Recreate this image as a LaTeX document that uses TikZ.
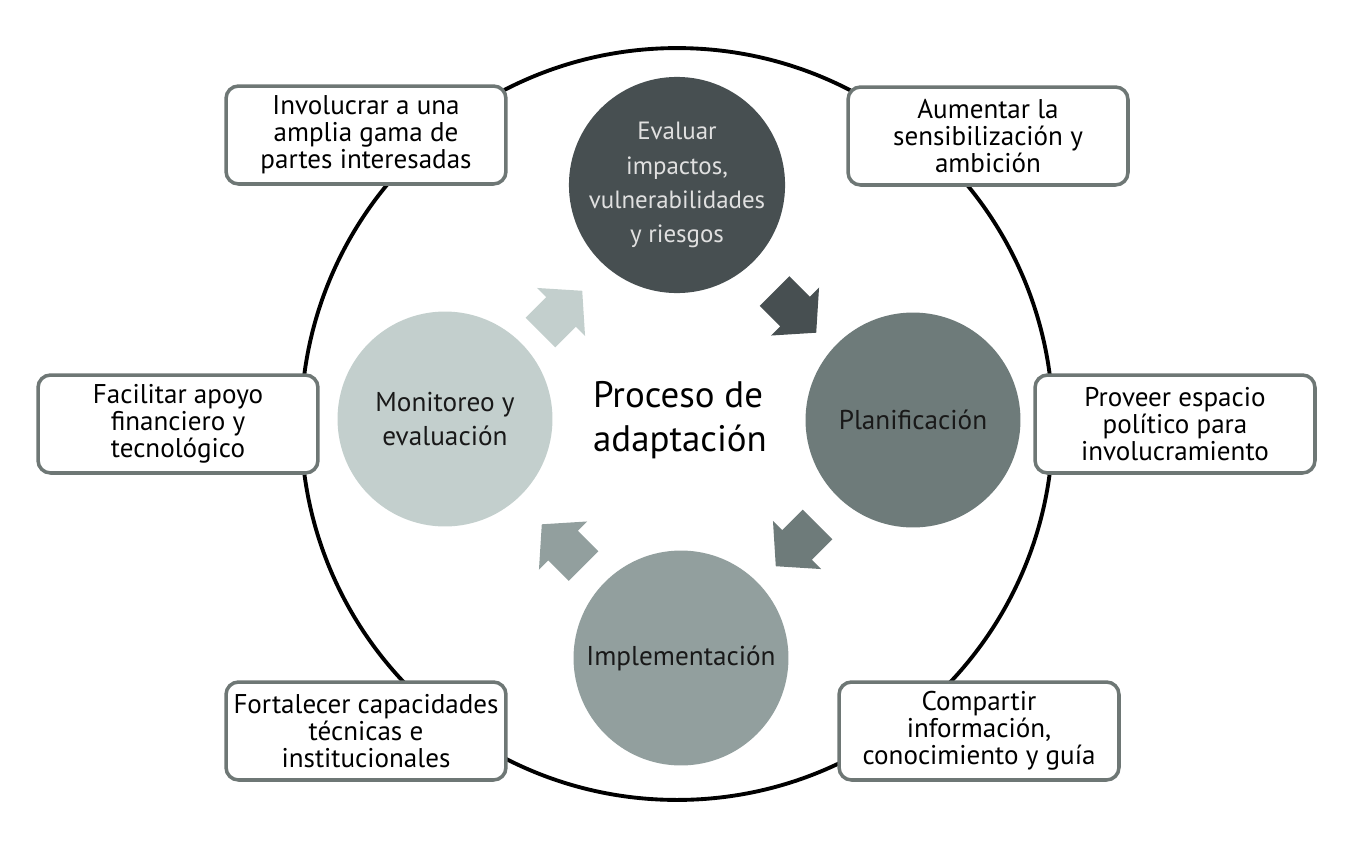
\documentclass[tikz,border=0pt]{standalone}
\usepackage{fontspec}
\setmainfont{PT Sans}
\usepackage{xcolor}
\usetikzlibrary{calc}

\definecolor{evalc}{HTML}{474F51}
\definecolor{planc}{HTML}{6E7B7A}
\definecolor{implc}{HTML}{929F9E}
\definecolor{monc}{HTML}{C3CFCD}
\definecolor{boxline}{HTML}{6E7775}

\begin{document}
\begin{tikzpicture}[
  x=0.02cm, y=-0.02cm,
  stage/.style={circle, minimum size=4.3cm, inner sep=0pt, align=center,
                font=\fontsize{15.5}{19.4}\selectfont, text=black!90},
  goal/.style={rectangle, rounded corners=0.25cm, draw=boxline, line width=2pt,
               fill=white, minimum width=5.6cm, minimum height=1.96cm, align=center,
               font=\fontsize{15.4}{15.4}\selectfont},
  flow/.pic={\path[pic actions] (-29,-21) -- (0,-21) -- (0,-34) -- (30,0)
             -- (0,34) -- (0,21) -- (-29,21) -- cycle;}
]
  \useasboundingbox (0,0) rectangle (1354,845);

  % outer ring
  \draw[line width=2.2pt] (677,424) circle[radius=7.52cm];

  % the four steps
  \node[stage, fill=evalc, minimum size=4.2cm, text=white!88!black,
        font=\fontsize{14.2}{19.4}\selectfont] (eval) at (677,185)
       {Evaluar\\impactos,\\vulnerabilidades\\y riesgos};
  \node[stage, fill=planc] (plan) at (913,420) {Planificación};
  \node[stage, fill=implc] (impl) at (681,658) {Implementación};
  \node[stage, fill=monc]  (mon)  at (445,419) {Monitoreo y\\evaluación};

  \node[align=left, font=\fontsize{21}{25}\selectfont] (core) at (680,420)
       {Proceso de\\adaptación};

  % arrows between steps
  \pic[fill=evalc, rotate=-45]  at ($(eval)!0.5!(plan)+(0,9)$) {flow};
  \pic[fill=planc, rotate=-135] at ($(plan)!0.5!(impl)+(0,6)$) {flow};
  \pic[fill=implc, rotate=135]  at ($(impl)!0.5!(mon)+(0,7)$)  {flow};
  \pic[fill=monc,  rotate=45]   at ($(mon)!0.5!(eval)+(0,10)$) {flow};

  % enabling actions
  \node[goal] (stake) at (366,135) {Involucrar a una\\amplia gama de\\partes interesadas};
  \node[goal] (aware) at (988,136) {Aumentar la\\sensibilización y\\ambición};
  \node[goal] (fin)   at (178,424) {Facilitar apoyo\\financiero y\\tecnológico};
  \node[goal] (space) at (1175,424) {Proveer espacio\\político para\\involucramiento};
  \node[goal] (cap)   at (366,731) {Fortalecer capacidades\\técnicas e\\institucionales};
  \node[goal] (info)  at (979,731) {Compartir\\información,\\conocimiento y guía};
\end{tikzpicture}
\end{document}
